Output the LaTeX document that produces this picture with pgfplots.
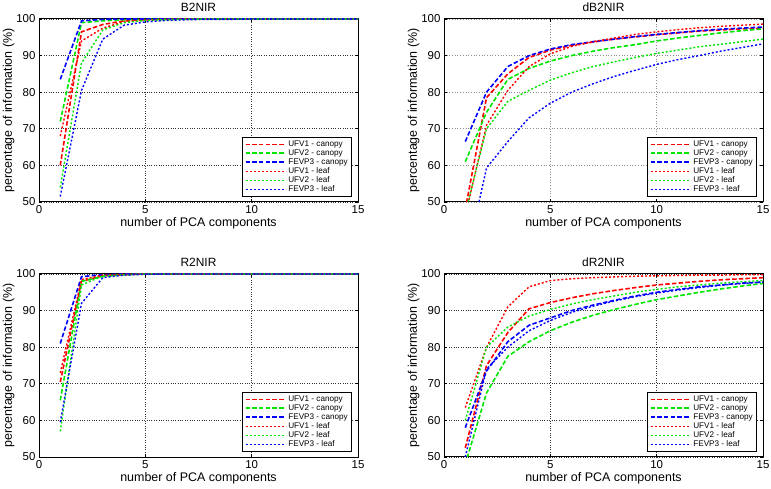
\documentclass[border=0pt]{standalone}
\usepackage{pgfplots}
\pgfplotsset{compat=1.18}
\usepackage{pgfplotstable}
\usepackage{fontspec}
\setmainfont{Liberation Sans}
\definecolor{mred}{RGB}{255,0,0}
\definecolor{mgreen}{RGB}{0,230,0}
\definecolor{mblue}{RGB}{0,0,255}

\pgfplotstableread{
x u1c u2c f3c u1l u2l f3l
1 60 72 83.5 68 54 51.5
2 96.5 99 99.5 94 88 80.5
3 98.5 99.5 99.9 97.5 97 94.5
4 99.5 99.8 100 99.3 99 98.3
5 99.8 99.9 100 99.7 99.6 99.2
6 99.9 100 100 99.9 99.8 99.6
7 100 100 100 100 99.9 99.8
8 100 100 100 100 100 99.9
9 100 100 100 100 100 99.9
10 100 100 100 100 100 100
11 100 100 100 100 100 100
12 100 100 100 100 100 100
13 100 100 100 100 100 100
14 100 100 100 100 100 100
15 100 100 100 100 100 100
}\tabBB

\pgfplotstableread{
x u1c u2c f3c u1l u2l f3l
1 48 61 66.5 46.3 47 33
2 78.5 74.5 80 71 70 59.3
3 85 83.5 87 80.5 77.5 66.5
4 89.5 86.5 90 87 80.5 73
5 91.5 88.5 91.8 90.5 83.3 77
6 92.8 90 93 92.5 85.3 80
7 93.7 91.2 93.8 93.8 87 82.3
8 94.5 92.2 94.5 94.8 88.3 84.3
9 95.1 93 95.2 95.8 89.5 86
10 95.7 94 95.8 96.5 90.6 87.6
11 96.2 94.8 96.3 97.1 91.5 88.9
12 96.7 95.5 96.8 97.6 92.4 90
13 97 96.2 97.2 98 93.1 91.2
14 97.3 96.8 97.5 98.3 93.8 92.2
15 97.5 97.3 97.8 98.6 94.5 93.2
}\tabdBB

\pgfplotstableread{
x u1c u2c f3c u1l u2l f3l
1 70.5 65.5 81 73 57 59.5
2 98 98 99.3 98.5 97 92
3 99.5 99.3 99.8 99.7 99.5 99
4 99.8 99.8 100 99.9 99.8 99.7
5 100 100 100 100 100 99.9
6 100 100 100 100 100 100
7 100 100 100 100 100 100
8 100 100 100 100 100 100
9 100 100 100 100 100 100
10 100 100 100 100 100 100
11 100 100 100 100 100 100
12 100 100 100 100 100 100
13 100 100 100 100 100 100
14 100 100 100 100 100 100
15 100 100 100 100 100 100
}\tabRR

\pgfplotstableread{
x u1c u2c f3c u1l u2l f3l
1 52.5 48 58 63.5 60 50
2 75 67.5 73.5 80 80 74
3 84 77.5 81.5 91 85.5 80
4 90.5 81.5 86 96.5 88.5 84.5
5 92.2 84.5 88 98.2 90.3 87.3
6 93.5 86.8 90 98.7 91.8 89.5
7 94.6 88.7 91.5 99 93 91.2
8 95.5 90.3 92.8 99.2 94 92.6
9 96.3 91.7 94 99.4 95 93.8
10 97 93 95 99.5 95.8 94.8
11 97.5 94 95.8 99.6 96.5 95.6
12 98 95 96.5 99.7 97 96.3
13 98.4 95.9 97 99.7 97.5 96.9
14 98.7 96.7 97.5 99.8 97.9 97.4
15 99 97.4 97.8 99.8 98.2 97.8
}\tabdRR

\pgfplotsset{
  canopy/.style={dash pattern=on 4.5bp off 2.2bp, line width=1.6bp},
  leaf/.style={dash pattern=on 2bp off 2bp, line width=1.4bp},
  panel/.style={
    scale only axis, width=319bp, height=183bp,
    xmin=0, xmax=15, ymin=50, ymax=100,
    xtick={0,5,10,15}, ytick={50,60,...,100},
    tick align=inside, major tick length=3bp,
    xmajorgrids, ymajorgrids,
    grid style={black!80, dotted, line width=0.7bp},
    axis line style={line width=1bp},
    tick style={black, line width=0.6bp},
    /pgf/number format/assume math mode=true,
    tick label style={font=\fontsize{11.5}{13}\selectfont},
    label style={font=\fontsize{12.5}{14}\selectfont},
    title style={font=\fontsize{12}{14}\selectfont, yshift=-2bp},
    xlabel={number of PCA components},
    ylabel={percentage of information (\%)},
    xlabel style={yshift=3bp},
    ylabel style={yshift=-5bp},
    legend style={font=\fontsize{8.2}{9.5}\selectfont, at={(rel axis cs:0.982,0.028)}, anchor=south east,
      draw=black, line width=0.9bp, fill=white, inner xsep=2bp, inner ysep=1bp, row sep=-2.2bp,
      cells={anchor=west}},
    legend image code/.code={\draw[#1] (0bp,0bp) -- (40bp,0bp);},
  },
}

\newcommand{\sixplots}[1]{%
  \addplot[mred, canopy] table[x=x, y=u1c] {#1};
  \addplot[mgreen, canopy] table[x=x, y=u2c] {#1};
  \addplot[mblue, canopy] table[x=x, y=f3c] {#1};
  \addplot[mred, leaf] table[x=x, y=u1l] {#1};
  \addplot[mgreen, leaf] table[x=x, y=u2l] {#1};
  \addplot[mblue, leaf] table[x=x, y=f3l] {#1};
  \legend{UFV1 - canopy, UFV2 - canopy, FEVP3 - canopy, UFV1 - leaf, UFV2 - leaf, FEVP3 - leaf}
}

\begin{document}
\begin{tikzpicture}
\path[use as bounding box] (0,0) rectangle (771bp,489bp);
\begin{axis}[panel, at={(39bp,287bp)}, anchor=south west, title={B2NIR}]
\sixplots{\tabBB}
\end{axis}
\begin{axis}[panel, at={(444bp,287bp)}, anchor=south west, title={dB2NIR},
  grid style={black!45, dotted, line width=0.7bp}]
\sixplots{\tabdBB}
\end{axis}
\begin{axis}[panel, at={(39bp,32bp)}, anchor=south west, title={R2NIR}]
\sixplots{\tabRR}
\end{axis}
\begin{axis}[panel, at={(444bp,32bp)}, anchor=south west, title={dR2NIR}]
\sixplots{\tabdRR}
\end{axis}
\end{tikzpicture}
\end{document}
